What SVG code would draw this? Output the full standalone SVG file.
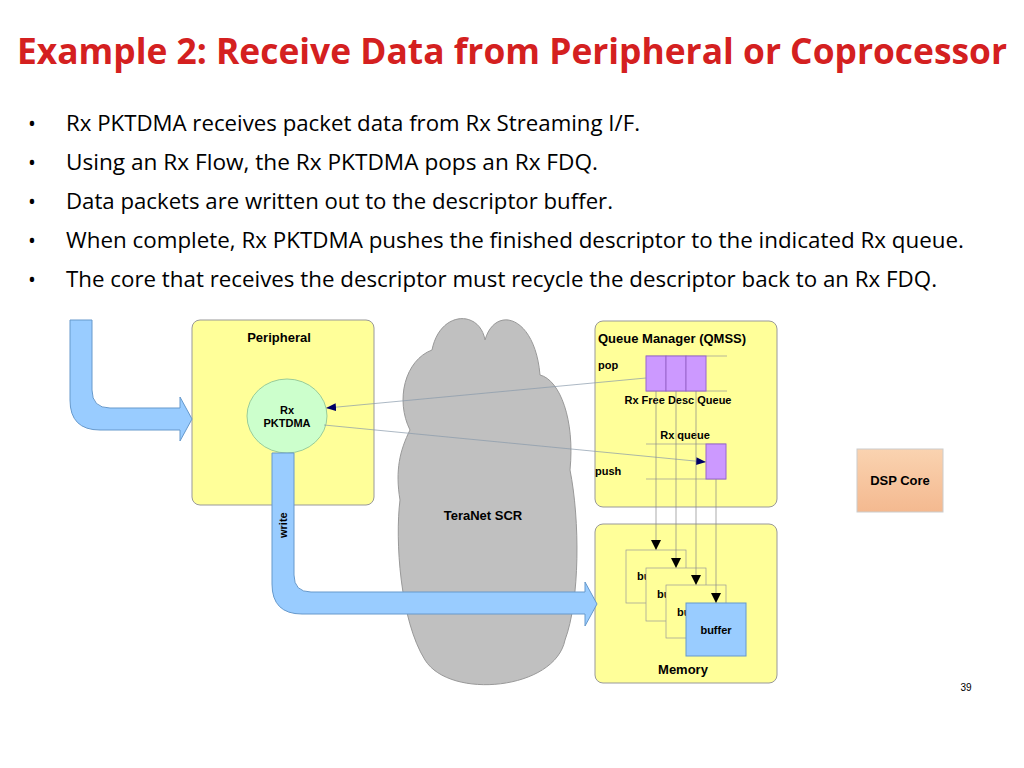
<svg xmlns="http://www.w3.org/2000/svg" width="1024" height="768" viewBox="0 0 1024 768">
<style>
.b{font-family:"Liberation Sans",Arial,sans-serif;font-weight:bold;fill:#000}
.s{font-family:"Open Sans","Liberation Sans",sans-serif;font-size:21px;fill:#000}
.box{fill:#ffff99;stroke:#999;stroke-width:1}
.thin{stroke:#999;stroke-width:0.7;fill:none}
.q{fill:#cc99ff;stroke:#9966cc;stroke-width:1}
.pipe{fill:#99ccff;stroke:#6699cc;stroke-width:1}
</style>
<defs>
<marker id="ah" markerWidth="10" markerHeight="8" refX="9" refY="4" orient="auto" markerUnits="userSpaceOnUse"><path d="M0,0 L10,4 L0,8 Z" fill="#000066"/></marker>
<marker id="dk" markerWidth="10" markerHeight="10" refX="9" refY="5" orient="auto" markerUnits="userSpaceOnUse"><path d="M0,0 L10,5 L0,10 Z" fill="#000"/></marker>
<linearGradient id="pg" x1="0" y1="0" x2="0" y2="1"><stop offset="0" stop-color="#fad3b0"/><stop offset="1" stop-color="#f4b990"/></linearGradient>
</defs>
<rect width="1024" height="768" fill="#fff"/>
<text x="512" y="64" text-anchor="middle" font-family="'Open Sans','Liberation Sans',sans-serif" font-size="35" font-weight="bold" fill="#d42020" textLength="990" lengthAdjust="spacingAndGlyphs">Example 2: Receive Data from Peripheral or Coprocessor</text>
<g class="s">
<text x="28" y="131">•</text><text x="66" y="131" textLength="574" lengthAdjust="spacingAndGlyphs">Rx PKTDMA receives packet data from Rx Streaming I/F.</text>
<text x="28" y="170">•</text><text x="66" y="170" textLength="532" lengthAdjust="spacingAndGlyphs">Using an Rx Flow, the Rx PKTDMA pops an Rx FDQ.</text>
<text x="28" y="209">•</text><text x="66" y="209" textLength="547" lengthAdjust="spacingAndGlyphs">Data packets are written out to the descriptor buffer.</text>
<text x="28" y="248">•</text><text x="66" y="248" textLength="898" lengthAdjust="spacingAndGlyphs">When complete, Rx PKTDMA pushes the finished descriptor to the indicated Rx queue.</text>
<text x="28" y="287">•</text><text x="66" y="287" textLength="871" lengthAdjust="spacingAndGlyphs">The core that receives the descriptor must recycle the descriptor back to an Rx FDQ.</text>
</g>
<g id="peripheral"><rect class="box" x="192" y="320" width="182" height="185" rx="8"/><text class="b" x="279" y="342" font-size="13" text-anchor="middle">Peripheral</text></g>
<g id="cloud"><path d="M410,430 C395,400 405,360 432,350 C440,310 480,310 485,340 C495,305 535,315 540,375 C560,380 575,420 570,470 C580,520 580,600 565,640 C555,690 450,700 425,660 C400,620 395,540 400,500 C395,470 400,450 410,430 Z" fill="#c0c0c0" stroke="#999"/><text class="b" x="483" y="520" font-size="13" text-anchor="middle">TeraNet SCR</text></g>
<g id="qmss"><rect class="box" x="595" y="321" width="182" height="186" rx="8"/><text class="b" x="598" y="343" font-size="13">Queue Manager (QMSS)</text><text class="b" x="598" y="369" font-size="11">pop</text><text class="b" x="595" y="475" font-size="11">push</text><text class="b" x="678" y="404" font-size="11" text-anchor="middle">Rx Free Desc Queue</text><text class="b" x="685" y="439" font-size="11" text-anchor="middle">Rx queue</text>
<path class="thin" d="M646,356 H727 M646,391 H727 M646,444 H726 M646,479 H726"/>
<rect class="q" x="646" y="356" width="20" height="35"/><rect class="q" x="666" y="356" width="20" height="35"/><rect class="q" x="686" y="356" width="20" height="35"/><rect class="q" x="706" y="444" width="20" height="35"/></g>
<g id="memory"><rect class="box" x="595" y="524" width="182" height="159" rx="8"/>
<rect x="626" y="550" width="60" height="53" fill="#ffff99" stroke="#999" stroke-width="0.7"/><text class="b" x="637" y="580" font-size="11">bu</text>
<rect x="646" y="568" width="60" height="53" fill="#ffff99" stroke="#999" stroke-width="0.7"/><text class="b" x="657" y="598" font-size="11">bu</text>
<rect x="666" y="585" width="60" height="53" fill="#ffff99" stroke="#999" stroke-width="0.7"/><text class="b" x="677" y="616" font-size="11">bu</text>
<rect x="686" y="603" width="60" height="53" fill="#99ccff" stroke="#6699cc"/><text class="b" x="716" y="634" font-size="11" text-anchor="middle">buffer</text>
<text class="b" x="683" y="674" font-size="13" text-anchor="middle">Memory</text></g>
<g id="pktdma"><ellipse cx="287" cy="416" rx="40" ry="37" fill="#ccffcc" stroke="#99cc99"/><text class="b" x="287" y="414" font-size="11" text-anchor="middle">Rx</text><text class="b" x="287" y="427" font-size="11" text-anchor="middle">PKTDMA</text></g>
<g id="dsp"><rect x="857" y="449" width="86" height="63" fill="url(#pg)" stroke="#ccc"/><text class="b" x="900" y="485" font-size="13" text-anchor="middle">DSP Core</text></g>
<g id="connectors">
<path class="pipe" d="M70,320 H92 V390 Q92,408 110,408 H180 V397 L192,419 L180,441 V430 H100 Q70,430 70,400 Z"/>
<path class="pipe" d="M272,453 H294 V575 Q294,592 311,592 H585 V582 L597,604 L585,626 V614 H302 Q272,614 272,584 Z"/>
<text class="b" x="0" y="0" font-size="11" transform="translate(287,538) rotate(-90)">write</text>
<line x1="646" y1="378" x2="327" y2="408" stroke="#8899aa" stroke-width="0.7" marker-end="url(#ah)"/>
<line x1="324" y1="425" x2="705" y2="462" stroke="#8899aa" stroke-width="0.7" marker-end="url(#ah)"/>
<g stroke="#888" stroke-width="0.7"><line x1="656" y1="391" x2="656" y2="549" marker-end="url(#dk)"/><line x1="676" y1="391" x2="676" y2="567" marker-end="url(#dk)"/><line x1="696" y1="391" x2="696" y2="584" marker-end="url(#dk)"/><line x1="716" y1="479" x2="716" y2="602" marker-end="url(#dk)"/></g>
</g>
<text x="966" y="691" font-family="'Liberation Sans',sans-serif" font-size="10" text-anchor="middle">39</text>
</svg>
